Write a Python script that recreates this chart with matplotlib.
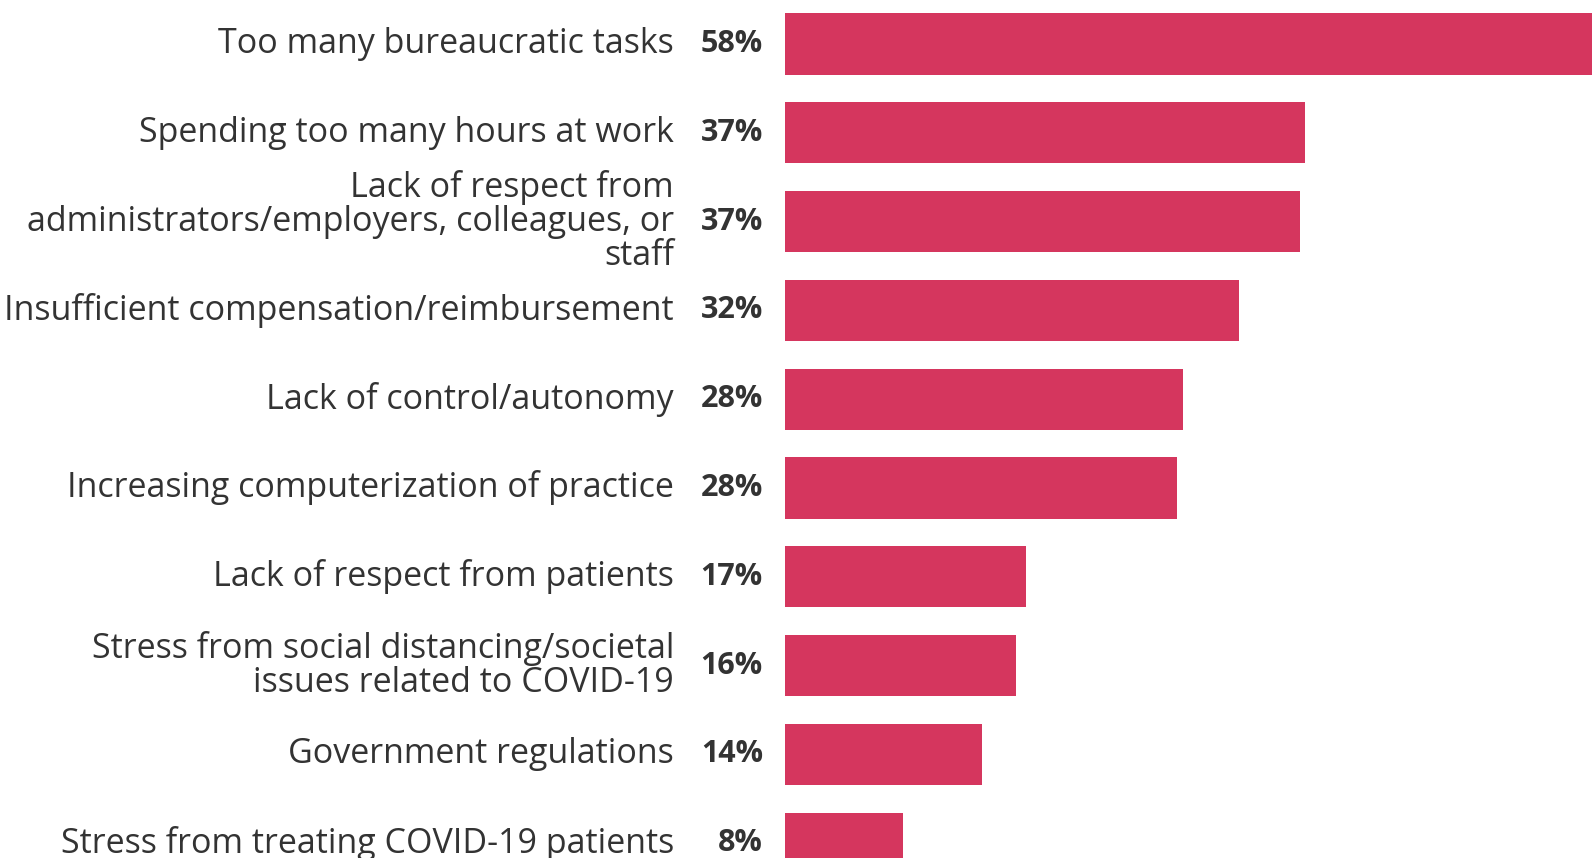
import matplotlib.pyplot as plt

categories = [
    "Too many bureaucratic tasks",
    "Spending too many hours at work",
    "Lack of respect from\nadministrators/employers, colleagues, or\nstaff",
    "Insufficient compensation/reimbursement",
    "Lack of control/autonomy",
    "Increasing computerization of practice",
    "Lack of respect from patients",
    "Stress from social distancing/societal\nissues related to COVID-19",
    "Government regulations",
    "Stress from treating COVID-19 patients",
]
values = [58, 36.9, 36.5, 32.2, 28.2, 27.8, 17.1, 16.4, 14.0, 8.4]
labels = ["58%", "37%", "37%", "32%", "28%", "28%", "17%", "16%", "14%", "8%"]

W, H = 1592, 858
fig = plt.figure(figsize=(W / 100, H / 100), dpi=100)
ax = fig.add_axes([785 / W, 0, 1 - 785 / W, 1])

ypos = list(range(len(categories)))
ax.barh(ypos, values, height=0.69, color="#d5365e")

ax.set_xlim(0, 807 / 14.1)
ax.set_ylim(9.167, -0.495)
ax.axis("off")

for y, cat, lab in zip(ypos, categories, labels):
    ax.annotate(lab, xy=(0, y), xytext=(-22, 0), textcoords="offset pixels",
                ha="right", va="center", fontsize=22, fontweight="bold",
                family="Open Sans", color="#333333", annotation_clip=False)
    ax.annotate(cat, xy=(0, y), xytext=(-111, 0), textcoords="offset pixels",
                ha="right", va="center", fontsize=24.5, family="Open Sans",
                color="#333333", linespacing=1.0, annotation_clip=False)

fig.savefig("out.png", dpi=100)
plt.close(fig)
